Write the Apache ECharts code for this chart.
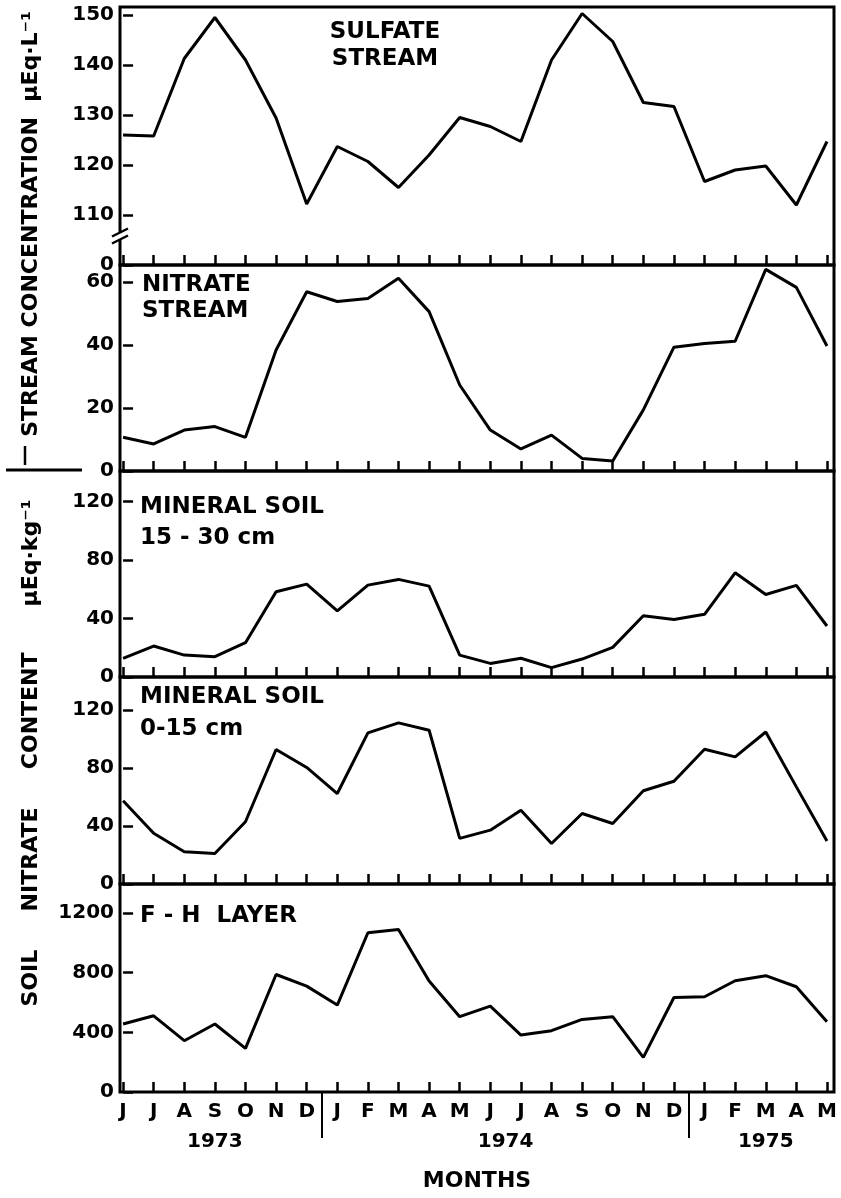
<!DOCTYPE html>
<html><head><meta charset="utf-8">
<script src="https://cdn.jsdelivr.net/npm/echarts@6/dist/echarts.min.js"></script>
<style>html,body{margin:0;padding:0;background:#fff}#c{width:841px;height:1198px}</style>
</head><body><div id="c"></div>
<script>
// ---- data ----
const months = ['J','J','A','S','O','N','D','J','F','M','A','M','J','J','A','S','O','N','D','J','F','M','A','M'];
const monthYears = [1973,1973,1973,1973,1973,1973,1973,1974,1974,1974,1974,1974,1974,1974,1974,1974,1974,1974,1974,1975,1975,1975,1975,1975];
const sulfateStream = [126,125.8,141.3,149.5,141,129.4,112.2,123.7,120.7,115.5,122,129.5,127.7,124.7,141,150.3,144.7,132.5,131.7,116.7,119,119.8,112,124.7];
const nitrateStream = [10.7,8.6,13,14.1,10.7,38.4,56.9,53.8,54.8,61.2,50.6,27.3,13,7,11.4,4,3.2,19.4,39.3,40.5,41.2,64,58.3,39.7];
const soil15to30 = [12.8,21.2,15,13.9,23.5,58.3,63.6,45.3,62.9,66.8,62.2,15,9.3,12.8,6.4,12.3,20.3,41.9,39.4,42.9,71.3,56.5,62.7,34.9];
const soil0to15 = [57.5,35,22.3,21.1,43,92.9,80.5,62.5,104.4,111.3,106.2,31.5,37.2,51,28,48.7,41.8,64.4,71,93.1,87.8,105,67.1,29.7];
const fhLayer = [456,511,344,456,293,788,710,583,1068,1090,745,505,576,382,411,487,505,232,634,639,746,780,706,471];

const sulfateTicks = [100,110,120,130,140,150];
const sulfateTickLabels = ['0','110','120','130','140','150'];
const nitrateTicks = [0,20,40,60];
const soil15Ticks = [0,40,80,120];
const soil0Ticks = [0,40,80,120];
const fhTicks = [0,400,800,1200];

const panelLabels = ['SULFATE\nSTREAM','NITRATE\nSTREAM','MINERAL SOIL\n15 - 30 cm','MINERAL SOIL\n0-15 cm','F - H  LAYER'];
const streamTitle = 'STREAM CONCENTRATION  \u03bcEq\u00b7L\u207b\u00b9';
const soilTitle = 'SOIL     NITRATE     CONTENT      \u03bcEq\u00b7kg\u207b\u00b9';
const xTitle = 'MONTHS';

// ---- layout ----
const FONT = 'DejaVu Sans';
const tops = [7,265,471,677,884];
const heights = [258,206,206,207,208];
const yRanges = [[100,151.6],[0,65.4],[0,141],[0,143],[0,1395]];
const series = [sulfateStream, nitrateStream, soil15to30, soil0to15, fhLayer];
const ticks = [sulfateTicks, nitrateTicks, soil15Ticks, soil0Ticks, fhTicks];
const monthIdx = months.map((m,i)=>i);

// year centres & separators derived from monthYears
const years = [...new Set(monthYears)];
const yearCenters = years.map(y=>{const idx=monthIdx.filter(i=>monthYears[i]===y);return (idx[0]+idx[idx.length-1])/2;});
const yearSeps = [];
for(let i=1;i<monthYears.length;i++) if(monthYears[i]!==monthYears[i-1]) yearSeps.push(i-0.5);

const XMIN=-0.1, XMAX=23.23;
const lbl = {color:'#000', fontSize:20, fontWeight:'bold', fontFamily:FONT};
const grids=[], xAxes=[], yAxes=[], ser=[];
for(let g=0; g<5; g++){
  grids.push({left:120, right:7, top:tops[g], height:heights[g], show:true, borderColor:'#000', borderWidth:3, backgroundColor:'transparent'});
  xAxes.push({type:'value', gridIndex:g, min:XMIN, max:XMAX, position:'bottom',
    axisLine:{show:false}, splitLine:{show:false},
    axisTick:{show:true, inside:true, length:10, customValues:monthIdx, lineStyle:{color:'#000', width:2.5}},
    axisLabel:Object.assign({show:g===4, customValues:monthIdx, formatter:v=>months[Math.round(v)], margin:10}, lbl)
  });
  const tk = ticks[g];
  yAxes.push({type:'value', gridIndex:g, min:yRanges[g][0], max:yRanges[g][1],
    axisLine:{show:false}, splitLine:{show:false},
    axisTick:{show:true, inside:true, length:10, customValues:tk, lineStyle:{color:'#000', width:2.5}},
    axisLabel:Object.assign({customValues:tk, formatter:v=> g===0 ? sulfateTickLabels[sulfateTicks.indexOf(v)] : String(v), margin:6}, lbl)
  });
  ser.push({type:'line', xAxisIndex:g, yAxisIndex:g, data:series[g].map((v,i)=>[i,v]), showSymbol:false, symbol:'none',
    lineStyle:{color:'#000', width:3}, z:5, animation:false});
}
// year axis
xAxes.push({type:'value', gridIndex:4, min:XMIN, max:XMAX, position:'bottom',
  axisLine:{show:false}, splitLine:{show:false},
  axisTick:{show:true, inside:false, length:46, customValues:yearSeps, lineStyle:{color:'#000', width:2}},
  axisLabel:Object.assign({show:true, customValues:yearCenters, formatter:v=>String(years[yearCenters.indexOf(v)]), margin:40}, lbl),
  name:xTitle, nameLocation:'middle', nameGap:78, nameTextStyle:{color:'#000', fontSize:22, fontWeight:'bold', fontFamily:FONT}
});

const chart = echarts.init(document.getElementById('c'), null, {renderer:'canvas'});
chart.setOption({animation:false, backgroundColor:'#fff', grid:grids, xAxis:xAxes, yAxis:yAxes, series:ser});

// decorations
const F = 'bold 23px "'+FONT+'"';
const txt = (t,x,y,align,lh)=>({type:'text', z:50, x:x, y:y, style:{text:t, fill:'#000', font:F, align:align, verticalAlign:'top', lineHeight:lh}});
const by = chart.convertToPixel({yAxisIndex:0}, 105.5);
const g = [
  txt(panelLabels[0], 385, 19, 'center', 27),
  txt(panelLabels[1], 142, 272, 'left', 26),
  txt(panelLabels[2], 140, 492, 'left', 31),
  txt(panelLabels[3], 140, 681, 'left', 32),
  txt(panelLabels[4], 140, 902, 'left', 28),
  {type:'text', z:50, x:31, y:224, rotation:Math.PI/2, style:{text:streamTitle, fill:'#000', font:'bold 22px "'+FONT+'"', align:'center', verticalAlign:'middle'}},
  {type:'text', z:50, x:31, y:753, rotation:Math.PI/2, style:{text:soilTitle, fill:'#000', font:'bold 22px "'+FONT+'"', align:'center', verticalAlign:'middle'}},
  {type:'line', z:50, shape:{x1:6, y1:470, x2:82, y2:470}, style:{stroke:'#000', lineWidth:3}},
  {type:'line', z:50, shape:{x1:25, y1:446, x2:25, y2:465}, style:{stroke:'#000', lineWidth:2.5}},
  {type:'polygon', z:60, shape:{points:[[112,by-1],[128,by-9],[128,by-2],[112,by+6]]}, style:{fill:'#fff'}},
  {type:'line', z:61, shape:{x1:112, y1:by-1, x2:128, y2:by-9}, style:{stroke:'#000', lineWidth:2.5}},
  {type:'line', z:61, shape:{x1:112, y1:by+6, x2:128, y2:by-2}, style:{stroke:'#000', lineWidth:2.5}}
];
chart.setOption({graphic:g});
</script></body></html>
